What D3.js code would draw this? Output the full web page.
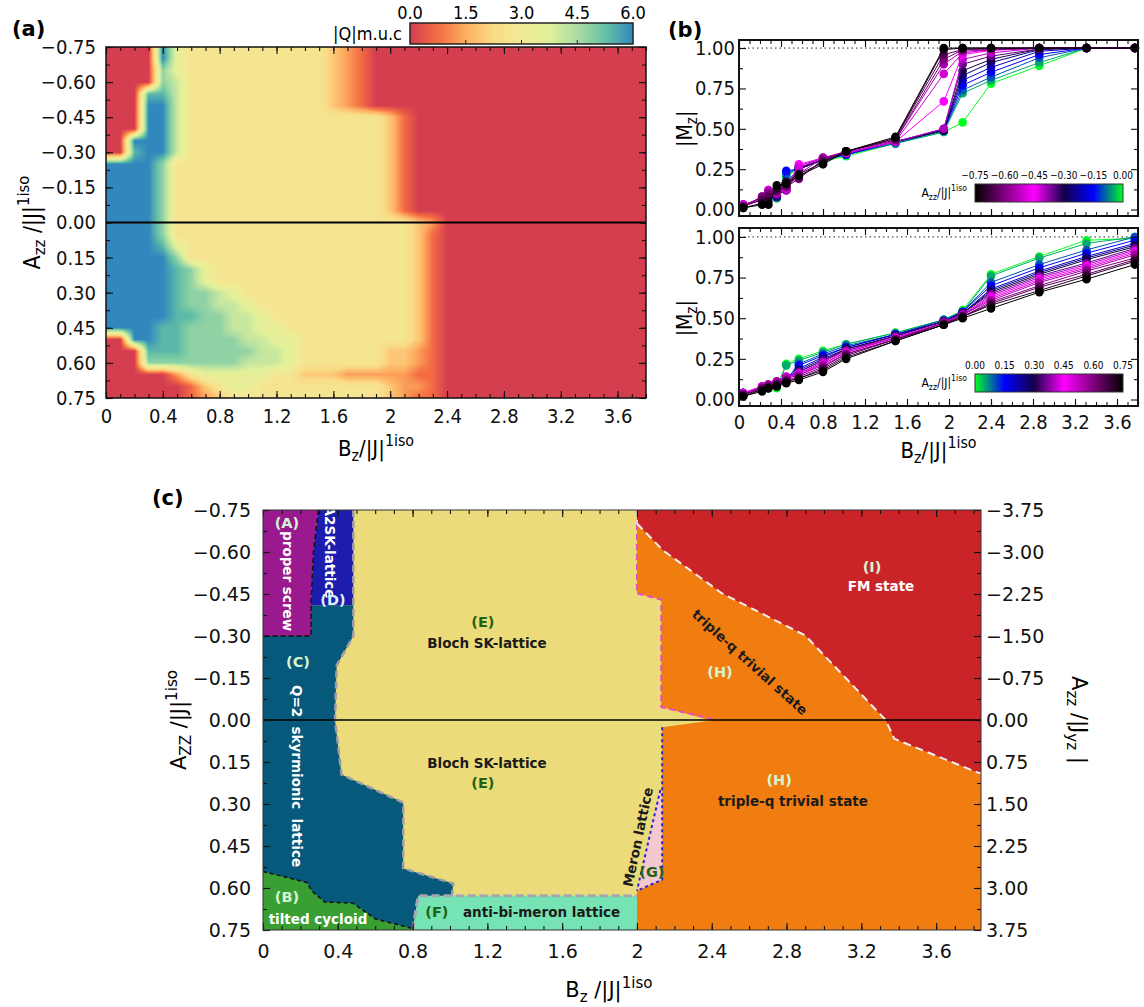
<!DOCTYPE html>
<html>
<head>
<meta charset="utf-8">
<script src="https://cdn.jsdelivr.net/npm/d3@7"></script>
<style>
  body { margin: 0; background: #fff; }
  svg { display: block; }
  .axis path, .axis line { stroke: #111; }
  .axis text { fill: #111; }
</style>
</head>
<body>
<script>
// ---------------- data: panel (a) |Q| map ----------------
// grid columns (B_z) and rows (A_zz); one character per cell, index into qLevels
var heatB = [0, 0.1, 0.2, 0.3, 0.4, 0.5, 0.6, 0.7, 0.8, 0.9, 1.0, 1.1, 1.2, 1.3, 1.4, 1.5, 1.6, 1.7, 1.8, 1.9,
             2.0, 2.1, 2.2, 2.3, 2.4, 2.5, 2.6, 2.7, 2.8, 2.9, 3.0, 3.1, 3.2, 3.3, 3.4, 3.5, 3.6, 3.7, 3.8];
var heatA = [-0.75, -0.70, -0.65, -0.60, -0.55, -0.50, -0.45, -0.40, -0.35, -0.30, -0.25, -0.20, -0.15, -0.10, -0.05,
             0.00, 0.05, 0.10, 0.15, 0.20, 0.25, 0.30, 0.35, 0.40, 0.45, 0.50, 0.55, 0.60, 0.65, 0.70, 0.75];
var qLevels = [0, 0.7, 1.3, 1.9, 2.7, 3.5, 4.1, 4.8, 5.4, 6.0];
var heatRows = [
  "0000954444 4444443210 0000000000 000000000",
  "0000954444 4444443210 0000000000 000000000",
  "0000754444 4444443210 0000000000 000000000",
  "0000764444 4444443210 0000000000 000000000",
  "0008864444 4444443210 0000000000 000000000",
  "0009964444 4444443210 0000000000 000000000",
  "0009964444 4444444444 3100000000 000000000",
  "0009964444 4444444444 3100000000 000000000",
  "0099964444 4444444444 3100000000 000000000",
  "0089964444 4444444444 3100000000 000000000",
  "9999744444 4444444444 3100000000 000000000",
  "9999744444 4444444444 3100000000 000000000",
  "9999744444 4444444444 3100000000 000000000",
  "9999744444 4444444444 3100000000 000000000",
  "9999744444 4444444444 3100000000 000000000",
  "9999744444 4444444444 4432000000 000000000",
  "9999744444 4444444444 4431000000 000000000",
  "9999854444 4444444444 4431000000 000000000",
  "9999974444 4444444444 4431000000 000000000",
  "9999987544 4444444444 4431000000 000000000",
  "9999987544 4444444444 4431000000 000000000",
  "9999987765 4444444444 4431000000 000000000",
  "9999987766 5444444444 4431000000 000000000",
  "9999988776 6544444444 4431000000 000000000",
  "9999887776 6554444444 4431000000 000000000",
  "0099887777 6655444444 4431000000 000000000",
  "0008887777 7665444444 3321000000 000000000",
  "0007777777 6665444444 3321000000 000000000",
  "0000024555 5544333222 2211000000 000000000",
  "0000001345 5444444444 3221000000 000000000",
  "0000001234 4444444444 3211000000 000000000"
];
var qTicks = [0, 1.5, 3.0, 4.5, 6.0];
var qStops = [0, 0.75, 1.5, 2.25, 3.0, 3.75, 4.5, 5.25, 6.0];
var qStopColors = ["#d53e4f", "#f46d43", "#fdae61", "#fadb86", "#f1ea96", "#e0f09a", "#abdda4", "#66c2a5", "#3288bd"];

// ---------------- data: panel (b) |M_z| curves ----------------
var magB = [0.04, 0.22, 0.28, 0.36, 0.45, 0.57, 0.80, 1.02, 1.49, 1.95, 2.13, 2.40, 2.86, 3.31, 3.77];
var magTopAzz = [0.00, -0.05, -0.10, -0.15, -0.20, -0.25, -0.30, -0.35, -0.40, -0.45, -0.50, -0.55, -0.60, -0.65, -0.70, -0.75];
var magTop = [
  [0.03, 0.06, 0.07, 0.07, 0.20, 0.26, 0.30, 0.33, 0.41, 0.48, 0.54, 0.78, 0.89, 1.00, 1.00],
  [0.03, 0.06, 0.07, 0.07, 0.21, 0.26, 0.30, 0.34, 0.41, 0.48, 0.72, 0.80, 0.91, 1.00, 1.00],
  [0.03, 0.06, 0.08, 0.08, 0.22, 0.26, 0.31, 0.34, 0.41, 0.49, 0.74, 0.82, 0.94, 1.00, 1.00],
  [0.03, 0.06, 0.08, 0.08, 0.24, 0.25, 0.31, 0.34, 0.42, 0.49, 0.77, 0.85, 0.96, 1.00, 1.00],
  [0.03, 0.06, 0.08, 0.08, 0.17, 0.25, 0.31, 0.35, 0.42, 0.49, 0.80, 0.88, 0.98, 1.00, 1.00],
  [0.03, 0.06, 0.09, 0.08, 0.14, 0.25, 0.31, 0.35, 0.42, 0.49, 0.83, 0.91, 0.99, 1.00, 1.00],
  [0.03, 0.06, 0.09, 0.09, 0.12, 0.25, 0.31, 0.35, 0.42, 0.49, 0.86, 0.93, 0.995, 1.00, 1.00],
  [0.03, 0.06, 0.10, 0.09, 0.12, 0.26, 0.31, 0.35, 0.42, 0.50, 0.90, 0.95, 0.995, 1.00, 1.00],
  [0.03, 0.06, 0.11, 0.10, 0.12, 0.27, 0.32, 0.35, 0.42, 0.50, 0.93, 0.97, 1.00, 1.00, 1.00],
  [0.03, 0.07, 0.12, 0.11, 0.13, 0.28, 0.32, 0.35, 0.42, 0.67, 0.96, 0.985, 1.00, 1.00, 1.00],
  [0.02, 0.07, 0.12, 0.12, 0.13, 0.26, 0.32, 0.35, 0.42, 0.84, 0.97, 0.99, 1.00, 1.00, 1.00],
  [0.02, 0.08, 0.11, 0.12, 0.14, 0.22, 0.32, 0.36, 0.43, 0.90, 0.98, 0.99, 1.00, 1.00, 1.00],
  [0.02, 0.08, 0.10, 0.11, 0.14, 0.19, 0.31, 0.36, 0.43, 0.93, 0.99, 0.99, 1.00, 1.00, 1.00],
  [0.02, 0.06, 0.08, 0.12, 0.15, 0.20, 0.30, 0.36, 0.44, 0.96, 0.99, 1.00, 1.00, 1.00, 1.00],
  [0.01, 0.04, 0.05, 0.13, 0.17, 0.22, 0.29, 0.36, 0.44, 0.99, 1.00, 1.00, 1.00, 1.00, 1.00],
  [0.01, 0.03, 0.03, 0.15, 0.16, 0.21, 0.28, 0.36, 0.45, 1.00, 1.00, 1.00, 1.00, 1.00, 1.00]
];
var magBotAzz = [0.00, 0.05, 0.10, 0.15, 0.20, 0.25, 0.30, 0.35, 0.40, 0.45, 0.50, 0.55, 0.60, 0.65, 0.70, 0.75];
var magBot = [
  [0.04, 0.06, 0.07, 0.07, 0.22, 0.25, 0.30, 0.34, 0.41, 0.49, 0.55, 0.77, 0.88, 0.98, 0.99],
  [0.04, 0.06, 0.07, 0.08, 0.21, 0.24, 0.29, 0.34, 0.41, 0.49, 0.54, 0.76, 0.87, 0.96, 1.00],
  [0.04, 0.07, 0.08, 0.09, 0.12, 0.22, 0.28, 0.33, 0.40, 0.49, 0.54, 0.72, 0.83, 0.92, 1.00],
  [0.04, 0.07, 0.08, 0.09, 0.12, 0.21, 0.27, 0.32, 0.40, 0.48, 0.54, 0.70, 0.81, 0.90, 0.98],
  [0.04, 0.07, 0.08, 0.10, 0.12, 0.19, 0.26, 0.32, 0.40, 0.48, 0.53, 0.68, 0.79, 0.88, 0.96],
  [0.04, 0.07, 0.09, 0.10, 0.13, 0.18, 0.25, 0.31, 0.39, 0.48, 0.53, 0.67, 0.78, 0.87, 0.95],
  [0.04, 0.07, 0.09, 0.10, 0.13, 0.17, 0.24, 0.31, 0.39, 0.48, 0.53, 0.66, 0.77, 0.86, 0.94],
  [0.04, 0.08, 0.09, 0.11, 0.13, 0.17, 0.24, 0.30, 0.39, 0.48, 0.53, 0.65, 0.76, 0.84, 0.93],
  [0.04, 0.08, 0.09, 0.11, 0.14, 0.16, 0.23, 0.30, 0.38, 0.47, 0.52, 0.64, 0.75, 0.83, 0.92],
  [0.04, 0.08, 0.09, 0.11, 0.14, 0.16, 0.22, 0.29, 0.38, 0.47, 0.52, 0.63, 0.74, 0.82, 0.91],
  [0.03, 0.08, 0.09, 0.11, 0.14, 0.15, 0.22, 0.29, 0.38, 0.47, 0.52, 0.62, 0.73, 0.81, 0.90],
  [0.03, 0.07, 0.09, 0.11, 0.13, 0.15, 0.21, 0.28, 0.37, 0.47, 0.52, 0.61, 0.72, 0.80, 0.89],
  [0.03, 0.07, 0.08, 0.10, 0.12, 0.14, 0.20, 0.28, 0.37, 0.47, 0.51, 0.60, 0.70, 0.79, 0.87],
  [0.03, 0.06, 0.08, 0.09, 0.11, 0.13, 0.19, 0.27, 0.37, 0.46, 0.51, 0.59, 0.69, 0.77, 0.86],
  [0.02, 0.06, 0.07, 0.09, 0.11, 0.13, 0.18, 0.26, 0.36, 0.46, 0.51, 0.58, 0.67, 0.76, 0.85],
  [0.02, 0.05, 0.07, 0.08, 0.10, 0.12, 0.17, 0.25, 0.36, 0.46, 0.50, 0.56, 0.66, 0.74, 0.83]
];
var magTicks = [0, 0.25, 0.5, 0.75, 1.0];
var cbTopTicks = [-0.75, -0.60, -0.45, -0.30, -0.15, 0.00];
var cbBotTicks = [0.00, 0.15, 0.30, 0.45, 0.60, 0.75];

// ---------------- data: panel (c) phase diagram ----------------
var bTicks = [0, 0.4, 0.8, 1.2, 1.6, 2.0, 2.4, 2.8, 3.2, 3.6];
var aTicks = [-0.75, -0.60, -0.45, -0.30, -0.15, 0.00, 0.15, 0.30, 0.45, 0.60, 0.75];
var ayzTicks = [-3.75, -3.00, -2.25, -1.50, -0.75, 0.00, 0.75, 1.50, 2.25, 3.00, 3.75];

var regionE = [[0, -0.75], [3.84, -0.75], [3.84, 0.75], [0, 0.75]];
var regionH = [[2.0, -0.75], [3.84, -0.75], [3.84, 0.75], [2.0, 0.75], [2.0, 0.61], [2.135, 0.57], [2.135, 0.026],
               [2.40, 0.002], [2.13, -0.046], [2.13, -0.43], [2.0, -0.452]];
var regionI = [[2.0, -0.75], [3.84, -0.75], [3.84, 0.19], [3.82, 0.187], [3.376, 0.067], [3.33, 0.0], [2.90, -0.302],
               [2.455, -0.452], [2.137, -0.607], [2.0, -0.702]];
var regionG = [[2.12, 0.25], [2.135, 0.25], [2.135, 0.57], [2.0, 0.61]];
var regionF = [[0.83, 0.628], [2.0, 0.628], [2.0, 0.75], [0.80, 0.75]];
var regionC = [[0, -0.30], [0.257, -0.30], [0.257, -0.41], [0.483, -0.41], [0.483, -0.30], [0.394, -0.195], [0.385, 0.0],
               [0.394, 0.05], [0.42, 0.195], [0.75, 0.295], [0.75, 0.53], [1.018, 0.584], [1.01, 0.628], [0.83, 0.628],
               [0.80, 0.75], [0, 0.75]];
var regionB = [[0, 0.541], [0.234, 0.58], [0.26, 0.61], [0.33, 0.65], [0.48, 0.654], [0.60, 0.71], [0.80, 0.745],
               [0.80, 0.75], [0, 0.75]];
var regionA = [[0, -0.75], [0.296, -0.75], [0.27, -0.60], [0.257, -0.42], [0.257, -0.30], [0, -0.30]];
var regionD = [[0.296, -0.75], [0.483, -0.75], [0.483, -0.41], [0.257, -0.41], [0.257, -0.42], [0.27, -0.60]];

var lineAD = [[0.296, -0.75], [0.27, -0.60], [0.257, -0.42], [0.257, -0.30], [0, -0.30]];
var lineCE = [[0.483, -0.75], [0.483, -0.30], [0.394, -0.195], [0.385, 0.0], [0.394, 0.05], [0.42, 0.195], [0.75, 0.295],
              [0.75, 0.53], [1.018, 0.584], [1.01, 0.628]];
var lineEF = [[0.80, 0.75], [0.83, 0.628], [2.0, 0.628]];
var lineBC = [[0, 0.541], [0.234, 0.58], [0.26, 0.61], [0.33, 0.65], [0.48, 0.654], [0.60, 0.71], [0.80, 0.745]];
var lineEH = [[2.0, -0.70], [2.0, -0.452], [2.13, -0.43], [2.13, -0.046], [2.40, -0.005]];
var lineIH = [[2.0, -0.702], [2.137, -0.607], [2.455, -0.452], [2.90, -0.302], [3.33, 0.0], [3.376, 0.067], [3.82, 0.187], [3.84, 0.19]];
var lineEI = [[2.0, -0.75], [2.0, -0.70]];
var lineG1 = [[2.135, 0.026], [2.135, 0.57], [2.0, 0.61]];
var lineG2 = [[2.125, 0.25], [2.0, 0.61]];

// ---------------- setup ----------------
var narrow = "'Liberation Sans Narrow','DejaVu Sans Condensed',sans-serif";
var dejavu = "'DejaVu Sans',sans-serif";

var svg = d3.select("body").append("svg")
    .attr("width", 1144)
    .attr("height", 1007);
var defs = svg.append("defs");

function rich(sel, parts, size) {
    parts.forEach(function (p) {
        var t = sel.append("tspan").text(p[0]);
        if (p[1] === "sub") t.attr("font-size", size * 0.72).attr("baseline-shift", "-30%");
        if (p[1] === "sup") t.attr("font-size", size * 0.72).attr("baseline-shift", "62%");
    });
    return sel;
}

// ticks pointing inward on all four sides
function frame(g, x, y, o) {
    var xr = x.range(), yr = d3.extent(y.range());
    var major = o.major || 7, minor = o.minor || 4;

    function style(a) {
        a.attr("class", "axis").attr("font-family", o.font).attr("font-size", o.fontSize);
        a.selectAll("line").attr("stroke-width", 1.1);
        a.select(".domain").remove();
    }
    g.append("g").attr("transform", "translate(0," + yr[1] + ")")
        .call(d3.axisBottom(x).tickValues(o.xt).tickFormat(o.xf).tickSizeInner(-major).tickSizeOuter(0).tickPadding(o.xpad)).call(style);
    g.append("g").attr("transform", "translate(0," + yr[1] + ")")
        .call(d3.axisBottom(x).tickValues(o.xm).tickFormat("").tickSizeInner(-minor).tickSizeOuter(0)).call(style);
    g.append("g").attr("transform", "translate(0," + yr[0] + ")")
        .call(d3.axisTop(x).tickValues(o.xt).tickFormat("").tickSizeInner(-major).tickSizeOuter(0)).call(style);
    g.append("g").attr("transform", "translate(0," + yr[0] + ")")
        .call(d3.axisTop(x).tickValues(o.xm).tickFormat("").tickSizeInner(-minor).tickSizeOuter(0)).call(style);

    g.append("g").attr("transform", "translate(" + xr[0] + ",0)")
        .call(d3.axisLeft(y).tickValues(o.yt).tickFormat(o.yf).tickSizeInner(-major).tickSizeOuter(0).tickPadding(o.ypad)).call(style);
    g.append("g").attr("transform", "translate(" + xr[0] + ",0)")
        .call(d3.axisLeft(y).tickValues(o.ym).tickFormat("").tickSizeInner(-minor).tickSizeOuter(0)).call(style);

    var y2 = o.y2 || y;
    g.append("g").attr("transform", "translate(" + xr[1] + ",0)")
        .call(d3.axisRight(y2).tickValues(o.y2t || o.yt).tickFormat(o.y2f || "").tickSizeInner(-major).tickSizeOuter(0).tickPadding(o.y2pad || 4)).call(style);
    g.append("g").attr("transform", "translate(" + xr[1] + ",0)")
        .call(d3.axisRight(y2).tickValues(o.y2m || o.ym).tickFormat("").tickSizeInner(-minor).tickSizeOuter(0)).call(style);

    g.append("rect")
        .attr("x", xr[0]).attr("y", yr[0])
        .attr("width", xr[1] - xr[0]).attr("height", yr[1] - yr[0])
        .attr("fill", "none").attr("stroke", o.frameColor || "#111").attr("stroke-width", o.frameWidth || 1.5);
}

var fmtB = function (d) { return String(+d.toFixed(1)); };
var fmt2 = d3.format(".2f");

// ================= panel (a) =================
var xA = d3.scaleLinear().domain([0, 3.8]).range([106, 646]);
var yA = d3.scaleLinear().domain([-0.75, 0.75]).range([47, 398]);
var qColor = d3.scaleLinear().domain(qStops).range(qStopColors).clamp(true);

var grid = heatRows.map(function (r) {
    return r.replace(/ /g, "").split("").map(function (c) { return qLevels[+c]; });
});
var colIdx = d3.scaleLinear().domain([heatB[0], heatB[heatB.length - 1]]).range([0, heatB.length - 1]).clamp(true);
var rowIdx = d3.scaleLinear().domain([heatA[0], heatA[heatA.length - 1]]).range([0, heatA.length - 1]).clamp(true);

var pw = Math.round(xA.range()[1] - xA.range()[0]);
var ph = Math.round(yA.range()[1] - yA.range()[0]);
var cv = document.createElement("canvas");
cv.width = pw; cv.height = ph;
var ctx = cv.getContext("2d");
var img = ctx.createImageData(pw, ph);
for (var py = 0; py < ph; py++) {
    var fi = rowIdx(yA.invert(yA.range()[0] + py + 0.5));
    var i0 = Math.min(Math.floor(fi), heatA.length - 2), ti = fi - i0;
    for (var px = 0; px < pw; px++) {
        var fj = colIdx(xA.invert(xA.range()[0] + px + 0.5));
        var j0 = Math.min(Math.floor(fj), heatB.length - 2), tj = fj - j0;
        var q = (grid[i0][j0] * (1 - tj) + grid[i0][j0 + 1] * tj) * (1 - ti) +
                (grid[i0 + 1][j0] * (1 - tj) + grid[i0 + 1][j0 + 1] * tj) * ti;
        var c = d3.rgb(qColor(q));
        var k = (py * pw + px) * 4;
        img.data[k] = c.r; img.data[k + 1] = c.g; img.data[k + 2] = c.b; img.data[k + 3] = 255;
    }
}
ctx.putImageData(img, 0, 0);

var gA = svg.append("g");
gA.append("image")
    .attr("x", xA.range()[0]).attr("y", yA.range()[0])
    .attr("width", pw).attr("height", ph)
    .attr("preserveAspectRatio", "none")
    .attr("href", cv.toDataURL());

gA.append("line")
    .attr("x1", xA(0)).attr("x2", xA(3.8))
    .attr("y1", yA(0)).attr("y2", yA(0))
    .attr("stroke", "#000").attr("stroke-width", 2);

frame(gA, xA, yA, {
    xt: bTicks, xm: d3.range(0, 3.81, 0.1), xf: fmtB, xpad: 11,
    yt: aTicks, ym: d3.range(-0.75, 0.76, 0.075), yf: fmt2, ypad: 10,
    font: narrow, fontSize: 20, frameWidth: 1.5
});

gA.append("text").attr("x", 12).attr("y", 36)
    .attr("font-family", dejavu).attr("font-weight", "bold").attr("font-size", 21).text("(a)");

rich(gA.append("text")
    .attr("transform", "translate(40," + yA(0) + ") rotate(-90)")
    .attr("text-anchor", "middle")
    .attr("font-family", narrow).attr("font-size", 23),
    [["A", ""], ["zz", "sub"], [" /|J|", ""], ["1iso", "sup"]], 23);

rich(gA.append("text")
    .attr("x", xA(1.9)).attr("y", 456)
    .attr("text-anchor", "middle")
    .attr("font-family", narrow).attr("font-size", 22),
    [["B", ""], ["z", "sub"], ["/|J|", ""], ["1iso", "sup"]], 22);

// colorbar (a)
var cbA = d3.scaleLinear().domain([0, 6]).range([410, 633]);
var gradQ = defs.append("linearGradient").attr("id", "gradQ");
qStops.forEach(function (v, i) {
    gradQ.append("stop").attr("offset", (v / 6 * 100) + "%").attr("stop-color", qStopColors[i]);
});
gA.append("rect")
    .attr("x", cbA(0)).attr("y", 23).attr("width", cbA(6) - cbA(0)).attr("height", 21)
    .attr("fill", "url(#gradQ)").attr("stroke", "#222").attr("stroke-width", 1.5);
gA.selectAll(".cbtick").data(qTicks.slice(1, -1)).enter().append("line")
    .attr("x1", function (d) { return cbA(d); }).attr("x2", function (d) { return cbA(d); })
    .attr("y1", 44).attr("y2", 40).attr("stroke", "#222");
gA.selectAll(".cblab").data(qTicks).enter().append("text")
    .attr("x", function (d) { return cbA(d); }).attr("y", 19)
    .attr("text-anchor", "middle")
    .attr("font-family", narrow).attr("font-size", 18)
    .text(function (d) { return d.toFixed(1); });
gA.append("text").attr("x", 402).attr("y", 40).attr("text-anchor", "end")
    .attr("font-family", narrow).attr("font-size", 18).text("|Q|m.u.c");

// ================= panel (b) =================
var xM = d3.scaleLinear().domain([0, 3.8]).range([739, 1138]);
var yTop = d3.scaleLinear().domain([-0.04, 1.05]).range([216, 40]);
var yBot = d3.scaleLinear().domain([-0.04, 1.055]).range([406, 228]);
var magColor = d3.scaleLinear()
    .domain([0, 0.4, 0.6, 0.8, 1])
    .range(["#000000", "#ff00ff", "#140048", "#0000ff", "#00ff20"]);
var fracTop = d3.scaleLinear().domain([-0.75, 0]).range([0, 1]);
var fracBot = d3.scaleLinear().domain([0, 0.75]).range([1, 0]);

function magPanel(yS, azz, rows, frac, showX) {
    var g = svg.append("g");
    g.append("line")
        .attr("x1", xM(0)).attr("x2", xM(3.8)).attr("y1", yS(1)).attr("y2", yS(1))
        .attr("stroke", "#222").attr("stroke-width", 1).attr("stroke-dasharray", "1.5,3");
    var line = d3.line()
        .x(function (d, i) { return xM(magB[i]); })
        .y(function (d) { return yS(d); });
    var ser = g.selectAll(".ser").data(rows).enter().append("g")
        .attr("fill", function (d, i) { return magColor(frac(azz[i])); })
        .attr("stroke", function (d, i) { return magColor(frac(azz[i])); });
    ser.append("path")
        .attr("d", function (d) { return line(d); })
        .attr("fill", "none").attr("stroke-width", 1);
    ser.selectAll("circle").data(function (d) { return d; }).enter().append("circle")
        .attr("cx", function (d, i) { return xM(magB[i]); })
        .attr("cy", function (d) { return yS(d); })
        .attr("r", 4.3).attr("stroke", "none");

    frame(g, xM, yS, {
        xt: bTicks, xm: d3.range(0, 3.81, 0.1), xf: showX ? fmtB : "", xpad: 9,
        yt: magTicks, ym: [0.125, 0.375, 0.625, 0.875], yf: fmt2, ypad: 4,
        font: narrow, fontSize: 20, frameWidth: 2
    });

    rich(g.append("text")
        .attr("transform", "translate(692," + yS(0.5) + ") rotate(-90)")
        .attr("text-anchor", "middle")
        .attr("font-family", narrow).attr("font-size", 21),
        [["|M", ""], ["z", "sub"], ["|", ""]], 21);
    return g;
}

var gTop = magPanel(yTop, magTopAzz, magTop, fracTop, false);
var gBot = magPanel(yBot, magBotAzz, magBot, fracBot, true);

gTop.append("text").attr("x", 668).attr("y", 37)
    .attr("font-family", dejavu).attr("font-weight", "bold").attr("font-size", 21).text("(b)");
rich(gBot.append("text")
    .attr("x", xM(1.9)).attr("y", 458)
    .attr("text-anchor", "middle")
    .attr("font-family", narrow).attr("font-size", 22),
    [["B", ""], ["z", "sub"], ["/|J|", ""], ["1iso", "sup"]], 22);

// inset colorbars
function inset(g, id, domain, ticks, y0, fracF) {
    var s = d3.scaleLinear().domain(domain).range([975, 1123]);
    var grad = defs.append("linearGradient").attr("id", id);
    d3.range(0, 1.001, 0.05).forEach(function (t) {
        var v = domain[0] + t * (domain[1] - domain[0]);
        grad.append("stop").attr("offset", (t * 100) + "%").attr("stop-color", magColor(fracF(v)));
    });
    g.append("rect").attr("x", s.range()[0]).attr("y", y0)
        .attr("width", s.range()[1] - s.range()[0]).attr("height", 18)
        .attr("fill", "url(#" + id + ")").attr("stroke", "#333").attr("stroke-width", 1);
    g.selectAll(".it").data(ticks).enter().append("text")
        .attr("x", function (d) { return s(d); }).attr("y", y0 - 5)
        .attr("text-anchor", "middle")
        .attr("font-family", narrow).attr("font-size", 10)
        .text(function (d) { return fmt2(d); });
    rich(g.append("text").attr("x", 967).attr("y", y0 + 13)
        .attr("text-anchor", "end").attr("font-family", narrow).attr("font-size", 12),
        [["A", ""], ["zz", "sub"], ["/|J|", ""], ["1iso", "sup"]], 12);
}
inset(gTop, "gradTop", [-0.75, 0], cbTopTicks, 184, fracTop);
inset(gBot, "gradBot", [0, 0.75], cbBotTicks, 374, fracBot);

// ================= panel (c) =================
var xC = d3.scaleLinear().domain([0, 3.84]).range([263, 981]);
var yC = d3.scaleLinear().domain([-0.75, 0.75]).range([510, 930]);
var yCR = d3.scaleLinear().domain([-3.75, 3.75]).range([510, 930]);
var gC = svg.append("g");
var poly = d3.line().x(function (d) { return xC(d[0]); }).y(function (d) { return yC(d[1]); });

var regions = [
    { pts: regionE, fill: "#ecdb7a" },
    { pts: regionH, fill: "#f17c10" },
    { pts: regionI, fill: "#cb2428" },
    { pts: regionG, fill: "#f4c8cf" },
    { pts: regionF, fill: "#76e3b4" },
    { pts: regionC, fill: "#06597a" },
    { pts: regionB, fill: "#3a9f33" },
    { pts: regionA, fill: "#9b198e" },
    { pts: regionD, fill: "#1c1cad" }
];
gC.selectAll(".region").data(regions).enter().append("path")
    .attr("d", function (d) { return poly(d.pts) + "Z"; })
    .attr("fill", function (d) { return d.fill; });

var bounds = [
    { pts: lineCE, stroke: "#9c9ca8", w: 2.5, dash: "7,4" },
    { pts: lineEF, stroke: "#a6a6b2", w: 3, dash: "8,4" },
    { pts: lineAD, stroke: "#111", w: 1.5, dash: "5,3" },
    { pts: lineBC, stroke: "#111", w: 1.5, dash: "4,3" },
    { pts: lineEH, stroke: "#e64cc8", w: 2, dash: "6,4" },
    { pts: lineIH, stroke: "#f6eeee", w: 2, dash: "8,5" },
    { pts: lineEI, stroke: "#d8d8d8", w: 2, dash: "6,4" },
    { pts: lineG1, stroke: "#2525d6", w: 2, dash: "3,3" },
    { pts: lineG2, stroke: "#2525d6", w: 2, dash: "3,3" }
];
gC.selectAll(".bound").data(bounds).enter().append("path")
    .attr("d", function (d) { return poly(d.pts); })
    .attr("fill", "none")
    .attr("stroke", function (d) { return d.stroke; })
    .attr("stroke-width", function (d) { return d.w; })
    .attr("stroke-dasharray", function (d) { return d.dash; });

gC.append("line")
    .attr("x1", xC(0)).attr("x2", xC(3.84)).attr("y1", yC(0)).attr("y2", yC(0))
    .attr("stroke", "#000").attr("stroke-width", 1.5);

// region labels
var mint = "#d4f5d2", dark = "#1b1b1b", dgreen = "#1e6412";
var labels = [
    { t: "(A)", b: 0.128, a: -0.704, c: mint, s: 14.5 },
    { t: "proper screw", b: 0.134, a: -0.496, c: "#fff", r: 90 },
    { t: "A2SK-lattice", b: 0.358, a: -0.600, c: "#fff", r: 90 },
    { t: "(D)", b: 0.374, a: -0.429, c: "#d8f2f4", s: 14.5 },
    { t: "(C)", b: 0.187, a: -0.207, c: mint, s: 14.5 },
    { t: "Q=2  skyrmionic  lattice", b: 0.182, a: 0.20, c: "#fff", r: 90 },
    { t: "(E)", b: 1.176, a: -0.35, c: dgreen, s: 14.5 },
    { t: "Bloch SK-lattice", b: 1.198, a: -0.275, c: dark },
    { t: "Bloch SK-lattice", b: 1.198, a: 0.154, c: dark },
    { t: "(E)", b: 1.176, a: 0.225, c: dgreen, s: 14.5 },
    { t: "(B)", b: 0.128, a: 0.632, c: mint, s: 14.5 },
    { t: "tilted cycloid", b: 0.294, a: 0.711, c: "#fff" },
    { t: "(F)", b: 0.93, a: 0.686, c: dgreen, s: 14.5 },
    { t: "anti-bi-meron lattice", b: 1.49, a: 0.686, c: dark },
    { t: "Meron lattice", b: 2.005, a: 0.418, c: dark, r: -78 },
    { t: "(G)", b: 2.08, a: 0.543, c: dgreen, s: 14.5 },
    { t: "(H)", b: 2.76, a: 0.214, c: mint, s: 14.5 },
    { t: "triple-q trivial state", b: 2.834, a: 0.289, c: dark },
    { t: "(H)", b: 2.444, a: -0.171, c: mint, s: 14.5 },
    { t: "triple-q trivial state", b: 2.604, a: -0.207, c: dark, r: 42 },
    { t: "(I)", b: 3.257, a: -0.546, c: mint, s: 14.5 },
    { t: "FM state", b: 3.305, a: -0.479, c: "#fff" }
];
gC.selectAll(".lab").data(labels).enter().append("text")
    .attr("transform", function (d) {
        return "translate(" + xC(d.b) + "," + yC(d.a) + ")" + (d.r ? " rotate(" + d.r + ")" : "");
    })
    .attr("text-anchor", "middle")
    .attr("dy", "0.36em")
    .attr("font-family", dejavu).attr("font-weight", "bold")
    .attr("font-size", function (d) { return d.s || 13.5; })
    .attr("fill", function (d) { return d.c; })
    .style("white-space", "pre")
    .text(function (d) { return d.t; });

frame(gC, xC, yC, {
    xt: bTicks, xm: d3.range(0, 3.81, 0.1), xf: fmtB, xpad: 15,
    yt: aTicks, ym: d3.range(-0.75, 0.76, 0.075), yf: fmt2, ypad: 12,
    y2: yCR, y2t: ayzTicks, y2m: d3.range(-3.75, 3.76, 0.375), y2f: fmt2, y2pad: 5,
    font: dejavu, fontSize: 19, frameWidth: 1, frameColor: "#333"
});

gC.append("text").attr("x", 152).attr("y", 505)
    .attr("font-family", dejavu).attr("font-weight", "bold").attr("font-size", 21).text("(c)");

rich(gC.append("text")
    .attr("transform", "translate(186," + yC(0) + ") rotate(-90)")
    .attr("text-anchor", "middle")
    .attr("font-family", dejavu).attr("font-size", 21),
    [["A", ""], ["ZZ", "sub"], [" /|J|", ""], ["1iso", "sup"]], 21);
rich(gC.append("text")
    .attr("x", xC(1.85)).attr("y", 997)
    .attr("text-anchor", "middle")
    .attr("font-family", dejavu).attr("font-size", 21),
    [["B", ""], ["z", "sub"], [" /|J|", ""], ["1iso", "sup"]], 21);
rich(gC.append("text")
    .attr("transform", "translate(1072," + yC(0) + ") rotate(90)")
    .attr("text-anchor", "middle")
    .attr("font-family", dejavu).attr("font-size", 21),
    [["A", ""], ["zz", "sub"], [" /|J", ""], ["yz", "sub"], [" |", ""]], 21);
</script>
</body>
</html>
